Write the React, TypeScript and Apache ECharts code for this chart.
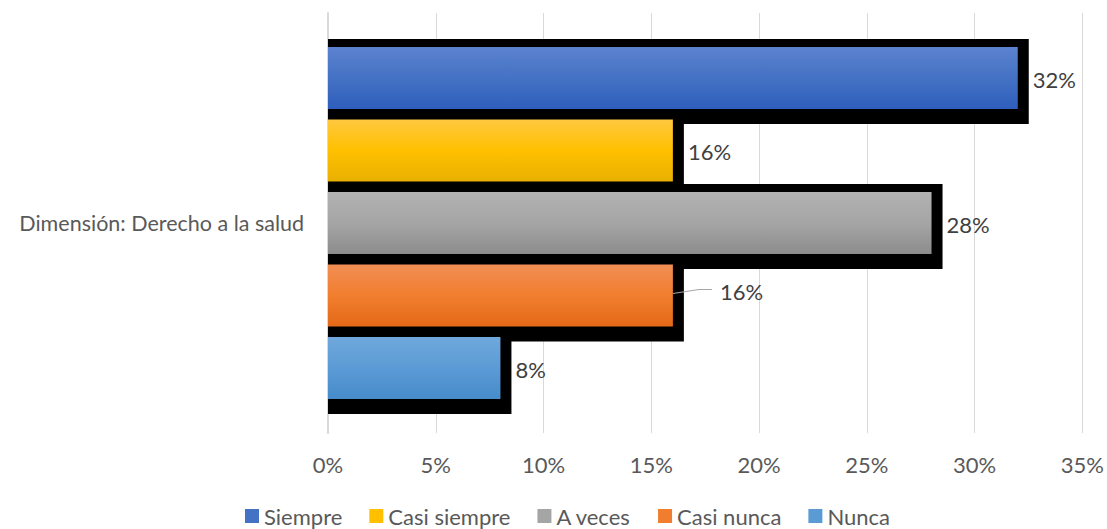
import React, { useEffect, useRef } from "react";
import * as echarts from "echarts";

const categories = ["Dimensión: Derecho a la salud"];
const seriesNames = ["Siempre", "Casi siempre", "A veces", "Casi nunca", "Nunca"];
const seriesValues = [32, 16, 28, 16, 8];
const xTicks = { min: 0, max: 35, interval: 5 };

const baseColors = ["#4472C4", "#FFC000", "#A5A5A5", "#F07E2E", "#5B9BD5"];
const topColors = ["#5C82D0", "#FFC83F", "#B2B2B2", "#F28E55", "#6FA8DC"];
const bottomColors = ["#2E5EBC", "#E8B000", "#8C8C8C", "#E46918", "#478BCB"];

const FONT = "Lato, 'Open Sans', sans-serif";
const FS = 22;

export default function App() {
  const ref = useRef<HTMLDivElement>(null);
  useEffect(() => {
    if (!ref.current) return;
    const chart = echarts.init(ref.current, undefined, { renderer: "svg" });
    const series = seriesNames.map((name, i) => ({
      type: "custom",
      name,
      itemStyle: { color: baseColors[i] },
      data: [[seriesValues[i], 0]],
      z: 2 + i,
      renderItem: (params: any, api: any) => {
        const v = api.value(0);
        const start = api.coord([0, 0]);
        const end = api.coord([v, 0]);
        const bandH = api.size([0, 1])[1];
        const bandTop = start[1] - bandH / 2;
        const unit = bandH / 420;
        const barTop = bandTop + unit * 34 + i * unit * 72.5;
        const barH = unit * 62;
        const w = end[0] - start[0];
        const cy = barTop + barH / 2;
        const labelText = v + "%";
        const children: any[] = [
          {
            type: "rect",
            shape: { x: start[0], y: barTop - 8, width: w + 11, height: barH + 23 },
            style: { fill: "#000000" },
          },
          {
            type: "rect",
            shape: { x: start[0], y: barTop, width: w, height: barH },
            style: {
              fill: new echarts.graphic.LinearGradient(0, 0, 0, 1, [
                { offset: 0, color: topColors[i] },
                { offset: 0.5, color: baseColors[i] },
                { offset: 1, color: bottomColors[i] },
              ]),
            },
          },
        ];
        if (i === 3) {
          children.push({
            type: "polyline",
            shape: {
              points: [
                [end[0], cy - 2],
                [end[0] + 26, cy - 6],
                [end[0] + 39, cy - 6],
              ],
            },
            style: { stroke: "#A6A6A6", lineWidth: 1.2, fill: null },
          });
          children.push({
            type: "text",
            style: {
              text: labelText,
              x: end[0] + 47,
              y: cy - 4,
              verticalAlign: "middle",
              align: "left",
              fill: "#404040",
              font: `${FS}px ${FONT}`,
            },
          });
        } else {
          children.push({
            type: "text",
            style: {
              text: labelText,
              x: end[0] + 11 + 4,
              y: cy + 1,
              verticalAlign: "middle",
              align: "left",
              fill: "#404040",
              font: `${FS}px ${FONT}`,
            },
          });
        }
        return { type: "group", children };
      },
    }));

    chart.setOption({
      animation: false,
      textStyle: { fontFamily: FONT },
      grid: { left: 328, right: 22, top: 13, bottom: 96, containLabel: false },
      legend: {
        data: seriesNames,
        top: 505,
        left: 245,
        padding: 0,
        icon: "rect",
        itemWidth: 14,
        itemHeight: 14,
        itemGap: 27,
        textStyle: { fontSize: FS, color: "#595959", fontFamily: FONT },
      },
      xAxis: {
        type: "value",
        min: xTicks.min,
        max: xTicks.max,
        interval: xTicks.interval,
        axisLine: { show: false },
        axisTick: { show: false },
        splitLine: { show: true, lineStyle: { color: "#D9D9D9", width: 1 } },
        axisLabel: {
          formatter: "{value}%",
          fontSize: FS,
          color: "#595959",
          margin: 20,
          fontFamily: FONT,
        },
      },
      yAxis: {
        type: "category",
        data: categories,
        axisLine: { show: true, lineStyle: { color: "#D9D9D9", width: 2 } },
        axisTick: { show: false },
        axisLabel: { fontSize: 21.5, color: "#595959", margin: 24, fontFamily: FONT },
      },
      series,
    });
    return () => chart.dispose();
  }, []);
  return (
    <div
      ref={ref}
      style={{ position: "absolute", left: 0, top: 0, width: 1107, height: 529 }}
    />
  );
}
